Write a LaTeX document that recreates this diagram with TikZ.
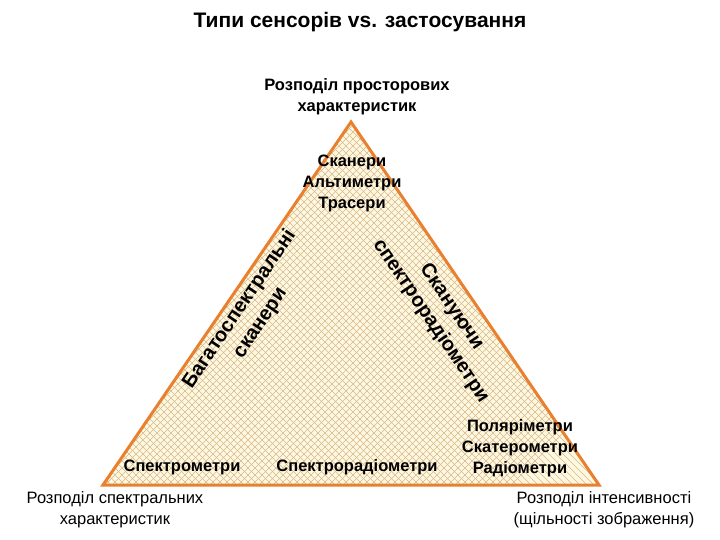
\documentclass[tikz,border=0pt]{standalone}
\usepackage{fontspec}
\setmainfont{Liberation Sans}
\definecolor{edge}{RGB}{232,128,48}
\definecolor{cream}{RGB}{255,248,225}
\definecolor{hatch}{RGB}{215,185,140}
\begin{document}
\begin{tikzpicture}[x=1pt,y=-1pt,
  lbl/.style={font=\fontsize{16.5}{21}\selectfont\bfseries,align=center,inner sep=0},
  rlbl/.style={font=\fontsize{20}{25}\selectfont\bfseries,align=center,inner sep=0},
  corner/.style={font=\fontsize{16.5}{21}\selectfont,align=center,inner sep=0}]
\useasboundingbox (0,0) rectangle (720,540);
\coordinate (A) at (351,122);
\coordinate (B) at (103,485);
\coordinate (C) at (599,485);
\fill[cream] (A)--(B)--(C)--cycle;
\begin{scope}
\clip (A)--(B)--(C)--cycle;
\foreach \k in {0,7,...,900}{
  \draw[hatch,line width=0.6pt] (\k-400,100) -- (\k-10,490);
  \draw[hatch,line width=0.6pt] (\k,100) -- (\k-390,490);
}
\end{scope}
\draw[edge,line width=3pt,line join=miter] (A)--(B)--(C)--cycle;
\node[font=\fontsize{21}{25}\selectfont\bfseries] (title) at (360,22) {Типи сенсорів vs. застосування};
\node[lbl] (top) at (357,97) {Розподіл просторових\\характеристик};
\node[lbl] (in1) at (352,183) {Сканери\\Альтиметри\\Трасери};
\node[rlbl,rotate=56] (lft) at (250,316) {Багатоспектральні\\сканери};
\node[rlbl,rotate=-56] (rgt) at (441,314) {Скануючи\\спектрорадіометри};
\node[lbl] (sm) at (182,467) {Спектрометри};
\node[lbl] (srm) at (357,467) {Спектрорадіометри};
\node[lbl] (pol) at (520,448) {Поляріметри\\Скатерометри\\Радіометри};
\node[corner] (bl) at (115,510) {Розподіл спектральних\\характеристик};
\node[corner] (br) at (604,510) {Розподіл інтенсивності\\(щільності зображення)};
\end{tikzpicture}
\end{document}
